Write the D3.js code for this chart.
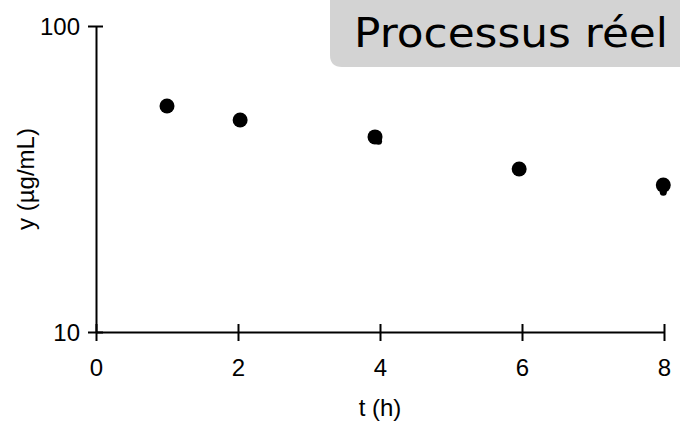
<!DOCTYPE html>
<html>
<head>
<meta charset="utf-8">
<script src="https://cdn.jsdelivr.net/npm/d3@7"></script>
<style>
  body { margin: 0; background: #fff; }
  svg { display: block; }
</style>
</head>
<body>
<div id="chart"></div>
<script>
// Data
const times = [1, 2.03, 3.93, 5.96, 7.99];
const conc = [54.8, 49.3, 43.4, 34.1, 30.2];
// second, partly hidden markers
const times2 = [3.98, 7.99];
const conc2 = [42.0, 28.6];
const xTicks = [0, 2, 4, 6, 8];
const yTicks = [10, 100];
const title = "Processus réel";

const W = 680, H = 424;
const margin = { top: 26, right: 16, bottom: 92, left: 96 },
      width = W - margin.left - margin.right,
      height = H - margin.top - margin.bottom;

const svg = d3.select("#chart")
  .append("svg")
  .attr("width", W)
  .attr("height", H);

// Title box
svg.append("path")
  .attr("d", "M330,0 H680 V67 H342 Q330,67 330,55 Z")
  .attr("fill", "#d3d3d3");

svg.append("text")
  .attr("x", 354)
  .attr("y", 47)
  .attr("font-family", "'DejaVu Sans', sans-serif")
  .attr("font-size", 40)
  .attr("textLength", 314)
  .attr("lengthAdjust", "spacingAndGlyphs")
  .attr("fill", "#000")
  .text(title);

const g = svg.append("g")
  .attr("transform", `translate(${margin.left},${margin.top})`);

// Scales
const xScale = d3.scaleLinear().domain([0, 8]).range([0, width]);
const yScale = d3.scaleLog().domain([10, 100]).range([height, 0]);

const font = "'Liberation Sans', Arial, sans-serif";
const fs = 24;

// X axis
const xAxis = g.append("g")
  .attr("transform", `translate(0,${height})`)
  .call(d3.axisBottom(xScale).tickValues(xTicks).tickFormat(d3.format("d")).tickSize(9).tickPadding(18).tickSizeOuter(0));

// Y axis
const yAxis = g.append("g")
  .call(d3.axisLeft(yScale).tickValues(yTicks).tickFormat(d3.format("d")).tickSize(8).tickPadding(8).tickSizeOuter(0));

[xAxis, yAxis].forEach(ax => {
  ax.attr("font-size", fs).attr("font-family", font);
  ax.select(".domain").attr("stroke", "#000").attr("stroke-width", 2);
  ax.selectAll(".tick line").attr("stroke", "#000").attr("stroke-width", 2);
  ax.selectAll(".tick text").attr("fill", "#000");
});
// ticks cross the axis line
xAxis.selectAll(".tick line").attr("y1", -8).attr("y2", 9);
yAxis.selectAll(".tick line").attr("x1", -8).attr("x2", 7);
yAxis.selectAll(".tick text").attr("dy", "0.36em");

// Axis titles
svg.append("text")
  .attr("x", margin.left + xScale(4))
  .attr("y", 416)
  .attr("text-anchor", "middle")
  .attr("font-family", font)
  .attr("font-size", fs)
  .text("t (h)");

svg.append("text")
  .attr("transform", `translate(34,${margin.top + height / 2}) rotate(-90)`)
  .attr("text-anchor", "middle")
  .attr("font-family", font)
  .attr("font-size", fs)
  .text("y (µg/mL)");

// Points
g.selectAll(".pt2")
  .data(times2.map((t, i) => [t, conc2[i]]))
  .enter()
  .append("circle")
  .attr("class", "pt2")
  .attr("cx", d => xScale(d[0]))
  .attr("cy", d => yScale(d[1]))
  .attr("r", 3.5)
  .attr("fill", "#000");

g.selectAll(".pt")
  .data(times.map((t, i) => [t, conc[i]]))
  .enter()
  .append("circle")
  .attr("class", "pt")
  .attr("cx", d => xScale(d[0]))
  .attr("cy", d => yScale(d[1]))
  .attr("r", 7.5)
  .attr("fill", "#000");
</script>
</body>
</html>
